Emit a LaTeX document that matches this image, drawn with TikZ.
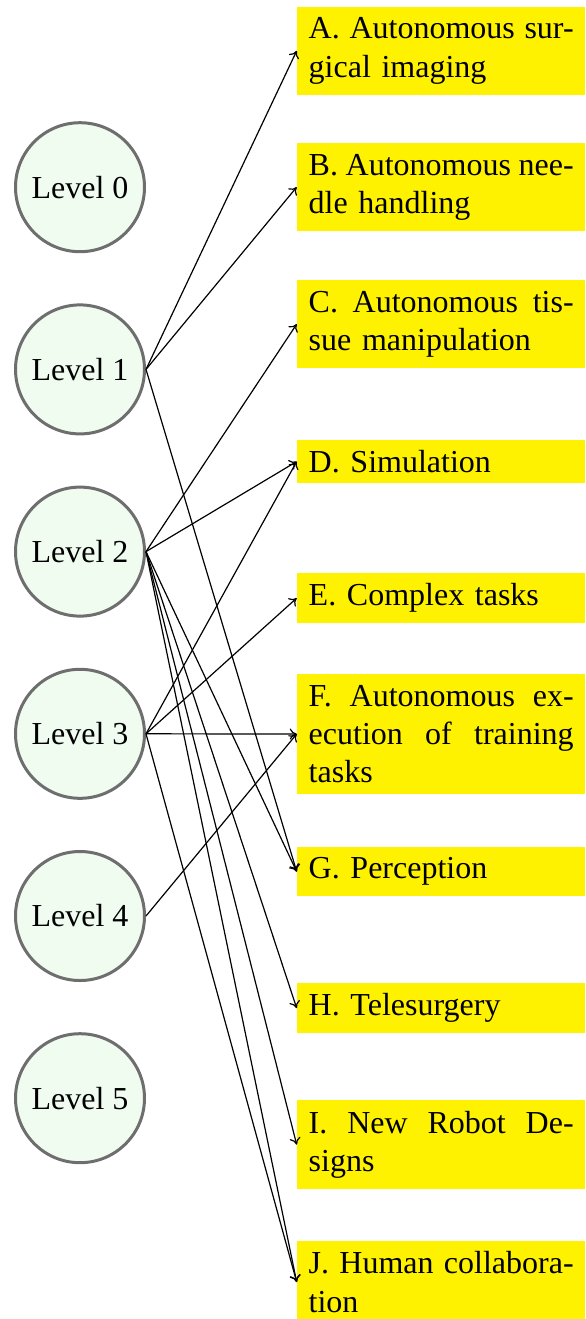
\documentclass[tikz,border=0pt]{standalone}
\usepackage{fontspec}
\setmainfont{Liberation Serif}
\usetikzlibrary{arrows.meta}
\definecolor{levelfill}{RGB}{240,252,240}
\definecolor{levelrim}{RGB}{110,110,110}
\definecolor{taskfill}{RGB}{255,242,0}
\newlength{\taskw}
\setlength{\taskw}{132.5pt}
% a justified line: words spread evenly over the full width of a task box
\newcommand{\fullline}[1]{\makebox[\taskw][l]{#1}}
\begin{document}
\begin{tikzpicture}[x=0.5pt,y=-0.5pt,
  level/.style={circle, draw=levelrim, line width=1.5pt, fill=levelfill,
    minimum size=64.5pt, inner sep=0pt, font=\fontsize{16}{19.2}\selectfont},
  task/.style={anchor=north west, fill=taskfill, text width=\taskw,
    inner xsep=5.8pt, inner ysep=5.25pt, align=left,
    font=\fontsize{16}{19.2}\selectfont},
  link/.style={line width=0.6pt, -{To[length=3.5pt,width=5.5pt]}}]
\useasboundingbox (0,0) rectangle (585,1319);

% autonomy levels
\node[level] (L0) at (80,187.2)  {Level 0};
\node[level] (L1) at (80,369.4)  {Level 1};
\node[level] (L2) at (80,551.6)  {Level 2};
\node[level] (L3) at (80,733.8)  {Level 3};
\node[level] (L4) at (80,916.0)  {Level 4};
\node[level] (L5) at (80,1098.2) {Level 5};

% research directions
\node[task] (A) at (296.7,6.7)   {\fullline{A.\hfill Autonomous\hfill sur-}\\gical imaging};
\node[task] (B) at (296.7,143)   {\fullline{B.\hfill Autonomous\hfill nee-}\\dle handling};
\node[task] (C) at (296.7,280)   {\fullline{C.\hfill Autonomous\hfill tis-}\\sue manipulation};
\node[task] (D) at (296.7,439.3) {D. Simulation};
\node[task] (E) at (296.7,572.7) {E. Complex tasks};
\node[task] (F) at (296.7,674)   {\fullline{F.\hfill Autonomous\hfill ex-}\\\fullline{ecution\hfill of\hfill training}\\tasks};
\node[task] (G) at (296.7,846.7) {G. Perception};
\node[task] (H) at (296.7,982.7) {H. Telesurgery};
\node[task] (I) at (296.7,1100)  {\fullline{I.\hfill New\hfill Robot\hfill De-}\\signs};
\node[task] (J) at (296.7,1240.7){\fullline{J.\hfill Human\hfill collabora-}\\tion};

% which directions each level relies on
\foreach \s/\t in {L1/A, L1/B, L1/G,
                   L2/C, L2/D, L2/G, L2/H, L2/I, L2/J,
                   L3/D, L3/E, L3/F, L3/J,
                   L4/F}
  \draw[link] (\s.east) -- (\t.west);
\end{tikzpicture}
\end{document}
